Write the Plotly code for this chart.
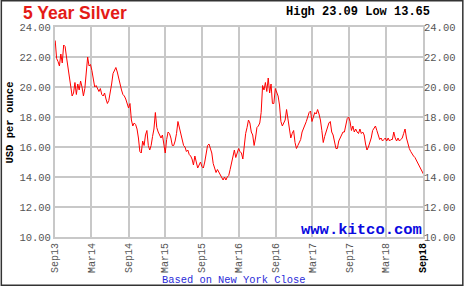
import pandas as pd
import plotly.graph_objects as go

# Weekly silver closes (USD/oz), starting 2013-09-02
start_date = "2013-09-02"
prices = [
    23.1, 21.9, 21.7, 21.4, 22.2, 21.6, 22.8, 22.7, 22.0, 21.3,
    20.5, 19.9, 19.4, 19.6, 20.3, 19.5, 20.2, 19.8, 20.4, 20.0,
    19.4, 19.9, 21.0, 22.0, 21.4, 21.5, 21.1, 20.5, 20.0, 20.1,
    19.9, 19.7, 19.9, 19.5, 19.4, 19.6, 19.2, 18.9, 19.1, 19.6,
    20.2, 20.9, 21.1, 21.3, 21.0, 20.6, 20.0, 19.8, 19.5, 19.4,
    19.2, 18.9, 18.6, 18.9, 17.8, 17.4, 17.6, 17.5, 17.2, 16.6,
    15.7, 15.6, 16.4, 16.1, 16.8, 17.1, 16.1, 15.8, 16.1, 16.7,
    17.2, 18.3, 17.3, 17.0, 16.8, 16.6, 16.8, 16.1, 15.6, 16.5,
    17.0, 16.9, 16.6, 16.1, 16.1, 16.4, 16.9, 17.7, 17.3, 16.8,
    16.3, 16.1, 16.0, 15.7, 15.8, 15.5, 15.4, 15.2, 14.8, 15.4,
    15.0, 14.6, 14.8, 15.0, 14.7, 14.6, 15.0, 15.7, 16.1, 16.2,
    15.9, 15.6, 14.9, 14.5, 14.3, 14.5, 14.3, 14.2, 13.9, 13.8,
    14.0, 13.8, 14.0, 14.1, 14.5, 15.0, 15.4, 15.8, 15.3, 15.6,
    15.9, 15.7, 15.6, 15.2, 16.1, 16.9, 17.3, 17.8, 17.6, 17.0,
    16.8, 16.1, 16.6, 17.3, 17.4, 17.6, 18.3, 20.1, 19.8, 20.3,
    19.7, 20.6, 19.6, 20.2, 18.9, 18.9, 19.9, 19.6, 19.4, 18.8,
    17.7, 17.4, 17.6, 17.8, 18.5, 17.9, 17.0, 16.6, 16.9, 17.1,
    16.3, 15.9, 16.1, 16.3, 16.5, 17.0, 17.2, 17.4, 17.7, 18.0,
    18.3, 18.4, 17.7, 18.0, 18.3, 18.2, 18.5, 18.2, 17.8, 17.1,
    16.3, 16.7, 17.0, 17.3, 17.6, 17.7, 17.0, 16.8, 16.4, 15.9,
    15.9, 16.4, 16.6, 16.8, 17.0, 17.0, 17.4, 17.9, 18.0, 17.7,
    17.1, 17.4, 17.0, 17.2, 17.0, 16.9, 17.2, 16.9, 17.0, 16.8,
    16.2, 15.8, 16.0, 16.3, 16.6, 17.1, 17.3, 17.4, 17.1, 16.7,
    16.5, 16.6, 16.4, 16.5, 16.6, 16.4, 16.6, 16.4, 16.5, 16.5,
    17.0, 16.6, 16.4, 16.6, 16.4, 16.5, 16.6, 16.9, 17.2, 16.6,
    16.2, 15.9, 15.7, 15.5, 15.4, 15.3, 15.1, 14.9, 14.7, 14.5,
    14.3, 14.2,
]
dates = pd.date_range(start_date, periods=len(prices), freq="7D")

tick_dates = ["2013-09-01", "2014-03-01", "2014-09-01", "2015-03-01", "2015-09-01",
              "2016-03-01", "2016-09-01", "2017-03-01", "2017-09-01", "2018-03-01",
              "2018-09-01"]
tick_labels = ["Sep13", "Mar14", "Sep14", "Mar15", "Sep15", "Mar16", "Sep16",
               "Mar17", "Sep17", "Mar18", "Sep18"]
y_ticks = [10, 12, 14, 16, 18, 20, 22, 24]
y_labels = ["%.2f" % v for v in y_ticks]
high_val, low_val = 23.09, 13.65

W, H = 468, 286
L, R, T, B = 55, 427, 27, 237


def fx(px):
    return (px - L) / (R - L)


def fy(py):
    return (B - py) / (B - T)


ticktext = tick_labels[:-1] + ["<span style='color:#000000'><b>%s</b></span>" % tick_labels[-1]]

fig = go.Figure()
fig.add_trace(go.Scatter(x=dates, y=prices, mode="lines",
                         line=dict(color="#ff0000", width=1), hoverinfo="skip",
                         showlegend=False))
fig.add_trace(go.Scatter(x=dates, y=prices, mode="lines", yaxis="y2",
                         line=dict(color="rgba(0,0,0,0)", width=0), hoverinfo="skip",
                         showlegend=False))

mono = "Liberation Mono, Courier New, monospace"
grid = "#c8c8c8"
axis_common = dict(showgrid=True, gridcolor=grid, gridwidth=2, zeroline=False,
                   showline=True, linecolor=grid, linewidth=2, ticks="")

fig.update_layout(
    width=W, height=H,
    margin=dict(l=L, r=W - R, t=T, b=H - B, pad=0),
    paper_bgcolor="white", plot_bgcolor="white",
    xaxis=dict(type="date", range=["2013-09-01", "2018-09-01"],
               tickvals=tick_dates, ticktext=ticktext, tickangle=-90,
               tickfont=dict(family=mono, size=10, color="#555555"),
               mirror=True, **axis_common),
    yaxis=dict(range=[10, 24], tickvals=y_ticks, ticktext=y_labels,
               tickfont=dict(family=mono, size=10.5, color="#555555"),
               mirror=True, **axis_common),
    yaxis2=dict(range=[10, 24], tickvals=y_ticks, ticktext=y_labels, overlaying="y",
                side="right", showgrid=False, zeroline=False, showline=False, ticks="",
                tickfont=dict(family=mono, size=10.5, color="#555555")),
    annotations=[
        dict(text="<b>5 Year Silver</b>", x=fx(21), y=fy(13), xref="paper", yref="paper",
             xanchor="left", yanchor="middle", showarrow=False,
             font=dict(family="Liberation Sans, Arial, sans-serif", size=17.5, color="#e41b17")),
        dict(text="<b>High %.2f Low %.2f</b>" % (high_val, low_val), x=fx(436), y=fy(12),
             xref="paper", yref="paper", xanchor="right", yanchor="middle", showarrow=False,
             font=dict(family=mono, size=12, color="#000000")),
        dict(text="<b>USD per ounce</b>", x=fx(10), y=fy(122), xref="paper", yref="paper",
             xanchor="center", yanchor="middle", textangle=-90, showarrow=False,
             font=dict(family=mono, size=10.5, color="#000000")),
        dict(text="<b>www.kitco.com</b>", x=fx(428), y=fy(230), xref="paper", yref="paper",
             xanchor="right", yanchor="middle", showarrow=False,
             font=dict(family=mono, size=15.5, color="#0a0ae0")),
        dict(text="Based on New York Close", x=fx(235), y=fy(280), xref="paper", yref="paper",
             xanchor="center", yanchor="middle", showarrow=False,
             font=dict(family=mono, size=10.4, color="#2a2ad8")),
    ],
    shapes=[
        dict(type="rect", xref="paper", yref="paper", x0=fx(0.75), x1=fx(W - 0.75),
             y0=fy(H - 0.75), y1=fy(0.75), line=dict(color="#333333", width=1.5),
             fillcolor="rgba(0,0,0,0)", layer="above"),
    ],
)

fig.write_html("out.html")
